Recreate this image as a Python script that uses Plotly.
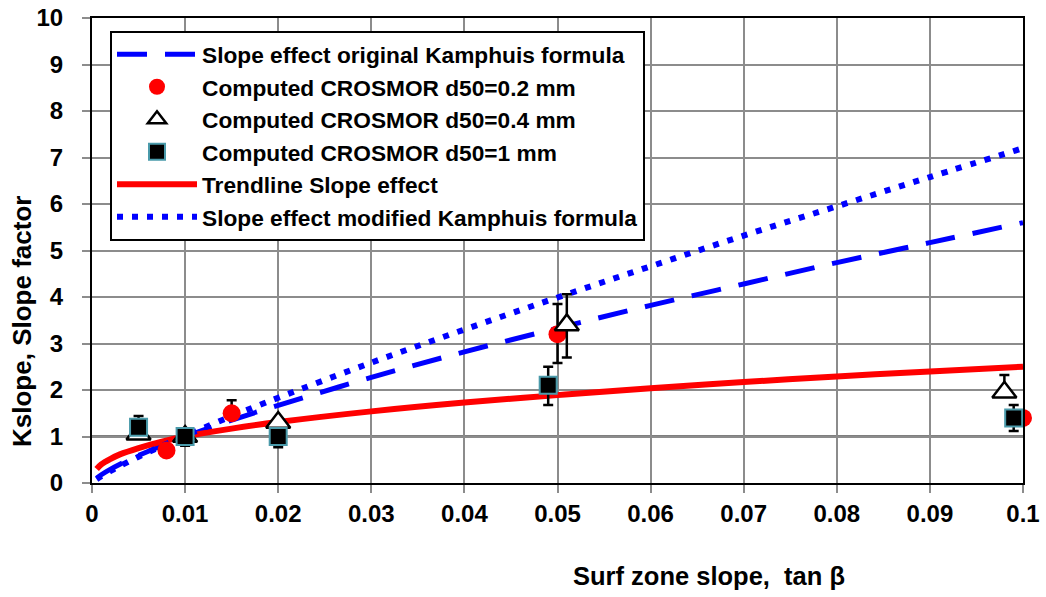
import plotly.graph_objects as go

# ---- data ----
curve_x = [0.0005, 0.001, 0.002, 0.003, 0.005, 0.0075, 0.01, 0.015, 0.02,
           0.03, 0.04, 0.05, 0.06, 0.07, 0.08, 0.09, 0.1]
kamphuis_orig = [0.105, 0.177, 0.298, 0.404, 0.592, 0.802, 0.996, 1.35, 1.67,
                 2.27, 2.82, 3.33, 3.82, 4.28, 4.74, 5.17, 5.6]
kamphuis_mod = [0.080, 0.144, 0.259, 0.365, 0.564, 0.797, 1.017, 1.436, 1.833,
                2.588, 3.30, 3.99, 4.66, 5.32, 5.95, 6.58, 7.2]
trendline = [0.30, 0.40, 0.52, 0.615, 0.75, 0.89, 1.0, 1.17, 1.31,
             1.54, 1.73, 1.89, 2.04, 2.17, 2.29, 2.40, 2.5]

d02_x = [0.008, 0.015, 0.05, 0.1]
d02_y = [0.7, 1.5, 3.2, 1.4]
d02_err_plus = [0.0, 0.28, 0.65, 0.0]
d02_err_minus = [0.0, 0.0, 0.62, 0.0]

d04_x = [0.005, 0.01, 0.02, 0.051, 0.098]
d04_y = [1.05, 1.0, 1.3, 3.4, 1.95]
d04_err_plus = [0.0, 0.0, 0.05, 0.66, 0.37]
d04_err_minus = [0.0, 0.0, 0.0, 0.7, 0.0]

d1_x = [0.005, 0.01, 0.02, 0.049, 0.099]
d1_y = [1.2, 1.0, 1.0, 2.1, 1.4]
d1_err_plus = [0.24, 0.18, 0.0, 0.4, 0.28]
d1_err_minus = [0.0, 0.2, 0.23, 0.42, 0.28]

x_ticks = [0, 0.01, 0.02, 0.03, 0.04, 0.05, 0.06, 0.07, 0.08, 0.09, 0.1]
x_tick_labels = ["0", "0.01", "0.02", "0.03", "0.04", "0.05", "0.06", "0.07", "0.08", "0.09", "0.1"]
y_ticks = list(range(0, 11))

FONT = "Liberation Sans, Arial, sans-serif"

fig = go.Figure()

fig.add_trace(go.Scatter(
    x=curve_x, y=kamphuis_orig, mode="lines", line_shape="spline",
    name="<b>Slope effect original Kamphuis formula</b>",
    line=dict(color="#0000FF", width=5, dash="30px,18px"),
    legendgroup="a", legendrank=1))

fig.add_trace(go.Scatter(
    x=curve_x, y=trendline, mode="lines", line_shape="spline",
    name="<b>Trendline Slope effect</b>",
    line=dict(color="#FF0000", width=6),
    legendgroup="e", legendrank=5))

fig.add_trace(go.Scatter(
    x=curve_x, y=kamphuis_mod, mode="lines", line_shape="spline",
    name="<b>Slope effect modified Kamphuis formula</b>",
    line=dict(color="#0000FF", width=6, dash="6px,9px"),
    legendgroup="f", legendrank=6))

fig.add_trace(go.Scatter(
    x=d02_x, y=d02_y, mode="markers", cliponaxis=False,
    name="<b>Computed CROSMOR d50=0.2 mm</b>",
    marker=dict(symbol="circle", size=18, color="#FF0000"),
    error_y=dict(type="data", symmetric=False, array=d02_err_plus,
                 arrayminus=d02_err_minus, color="black", thickness=2.5, width=5),
    legendgroup="b", legendrank=2))

fig.add_trace(go.Scatter(
    x=d04_x, y=d04_y, mode="markers",
    name="<b>Computed CROSMOR d50=0.4 mm</b>",
    marker=dict(symbol="triangle-up", size=21, color="white",
                line=dict(color="black", width=2.5)),
    error_y=dict(type="data", symmetric=False, array=d04_err_plus,
                 arrayminus=d04_err_minus, color="black", thickness=2.5, width=5),
    legendgroup="c", legendrank=3))

fig.add_trace(go.Scatter(
    x=d1_x, y=d1_y, mode="markers", cliponaxis=False,
    name="<b>Computed CROSMOR d50=1 mm</b>",
    marker=dict(symbol="square", size=17, color="black",
                line=dict(color="#4A9AAA", width=2)),
    error_y=dict(type="data", symmetric=False, array=d1_err_plus,
                 arrayminus=d1_err_minus, color="black", thickness=2.5, width=5),
    legendgroup="d", legendrank=4))

fig.update_layout(
    width=1046, height=597,
    margin=dict(l=92, r=23, t=18, b=114, autoexpand=False),
    paper_bgcolor="white", plot_bgcolor="white",
    font=dict(family=FONT, size=23.5, color="black"),
    showlegend=True,
    legend=dict(x=(110 - 92) / 931, y=(483 - 31) / 465, xanchor="left", yanchor="top",
                bgcolor="white", bordercolor="black", borderwidth=2,
                font=dict(family=FONT, size=22.7, color="black"),
                traceorder="grouped", tracegroupgap=0, itemwidth=80),
    xaxis=dict(range=[0, 0.1], tickvals=x_ticks, ticktext=[f"<b>{t}</b>" for t in x_tick_labels],
               automargin=False,
               showgrid=True, gridcolor="#8C8C8C", gridwidth=1.5,
               ticks="outside", ticklen=8, tickcolor="#8C8C8C", tickwidth=1.5,
               ticklabelstandoff=0,
               showline=True, linecolor="black", linewidth=2, mirror=True,
               zeroline=False, tickfont=dict(size=24)),
    yaxis=dict(range=[0, 10], tickvals=y_ticks, ticktext=[f"<b>{t}</b>" for t in y_ticks],
               automargin=False,
               showgrid=True, gridcolor="#8C8C8C", gridwidth=1.5,
               ticks="outside", ticklen=8, tickcolor="#8C8C8C", tickwidth=1.5,
               ticklabelstandoff=14,
               showline=True, linecolor="black", linewidth=2, mirror=True,
               zeroline=False, tickfont=dict(size=24)),
    shapes=[dict(type="line", xref="paper", yref="y", x0=0, x1=1, y0=1, y1=1,
                 line=dict(color="black", width=2), layer="below")],
    annotations=[
        dict(text="<b>Surf zone slope,  tan β</b>", xref="paper", yref="paper",
             x=(709 - 92) / 931, y=-(576 - 483) / 465, xanchor="center", yanchor="middle",
             showarrow=False, font=dict(size=25.5)),
        dict(text="<b>Kslope, Slope factor</b>", xref="paper", yref="paper",
             x=-(92 - 22) / 931, y=(483 - 322) / 465, xanchor="center", yanchor="middle",
             textangle=-90, showarrow=False, font=dict(size=26)),
    ],
)

fig.write_html("out.html")
